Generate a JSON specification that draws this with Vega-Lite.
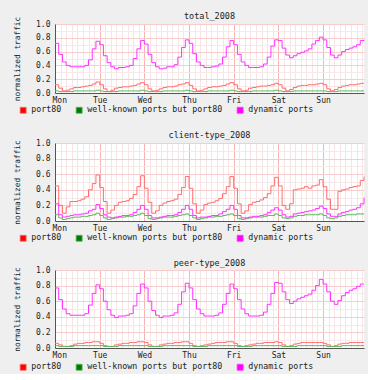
{
  "$schema": "https://vega.github.io/schema/vega-lite/v6.json",
  "background": "#efefef",
  "padding": {"left": 13, "top": 11, "right": 2, "bottom": 2},
  "spacing": 15,
  "datasets": {
    "total": [
      {"h":0,"p":0.12,"w":0.03,"d":0.72},{"h":2,"p":0.07,"w":0.02,"d":0.56},{"h":4,"p":0.03,"w":0.02,"d":0.45},{"h":6,"p":0.04,"w":0.02,"d":0.40},{"h":8,"p":0.06,"w":0.02,"d":0.38},{"h":10,"p":0.08,"w":0.03,"d":0.38},{"h":12,"p":0.08,"w":0.03,"d":0.38},{"h":14,"p":0.09,"w":0.03,"d":0.38},{"h":16,"p":0.10,"w":0.03,"d":0.40},{"h":18,"p":0.11,"w":0.03,"d":0.48},{"h":20,"p":0.13,"w":0.03,"d":0.64},{"h":22,"p":0.16,"w":0.04,"d":0.75},
      {"h":24,"p":0.12,"w":0.03,"d":0.70},{"h":26,"p":0.06,"w":0.02,"d":0.54},{"h":28,"p":0.02,"w":0.02,"d":0.44},{"h":30,"p":0.04,"w":0.02,"d":0.38},{"h":32,"p":0.07,"w":0.02,"d":0.35},{"h":34,"p":0.08,"w":0.03,"d":0.37},{"h":36,"p":0.09,"w":0.03,"d":0.37},{"h":38,"p":0.09,"w":0.03,"d":0.38},{"h":40,"p":0.10,"w":0.03,"d":0.40},{"h":42,"p":0.11,"w":0.03,"d":0.50},{"h":44,"p":0.13,"w":0.03,"d":0.64},{"h":46,"p":0.15,"w":0.04,"d":0.76},
      {"h":48,"p":0.12,"w":0.03,"d":0.71},{"h":50,"p":0.06,"w":0.02,"d":0.56},{"h":52,"p":0.03,"w":0.02,"d":0.44},{"h":54,"p":0.04,"w":0.02,"d":0.38},{"h":56,"p":0.06,"w":0.02,"d":0.35},{"h":58,"p":0.08,"w":0.03,"d":0.36},{"h":60,"p":0.09,"w":0.03,"d":0.38},{"h":62,"p":0.09,"w":0.03,"d":0.38},{"h":64,"p":0.10,"w":0.03,"d":0.41},{"h":66,"p":0.12,"w":0.03,"d":0.52},{"h":68,"p":0.13,"w":0.03,"d":0.66},{"h":70,"p":0.15,"w":0.04,"d":0.77},
      {"h":72,"p":0.11,"w":0.03,"d":0.72},{"h":74,"p":0.06,"w":0.02,"d":0.57},{"h":76,"p":0.03,"w":0.02,"d":0.45},{"h":78,"p":0.04,"w":0.02,"d":0.40},{"h":80,"p":0.06,"w":0.02,"d":0.37},{"h":82,"p":0.08,"w":0.03,"d":0.37},{"h":84,"p":0.09,"w":0.03,"d":0.38},{"h":86,"p":0.09,"w":0.03,"d":0.39},{"h":88,"p":0.10,"w":0.03,"d":0.42},{"h":90,"p":0.11,"w":0.03,"d":0.52},{"h":92,"p":0.13,"w":0.03,"d":0.67},{"h":94,"p":0.15,"w":0.04,"d":0.76},
      {"h":96,"p":0.12,"w":0.03,"d":0.70},{"h":98,"p":0.06,"w":0.02,"d":0.56},{"h":100,"p":0.03,"w":0.02,"d":0.45},{"h":102,"p":0.04,"w":0.02,"d":0.40},{"h":104,"p":0.07,"w":0.02,"d":0.37},{"h":106,"p":0.08,"w":0.03,"d":0.37},{"h":108,"p":0.09,"w":0.03,"d":0.37},{"h":110,"p":0.10,"w":0.03,"d":0.38},{"h":112,"p":0.10,"w":0.03,"d":0.42},{"h":114,"p":0.11,"w":0.03,"d":0.52},{"h":116,"p":0.12,"w":0.03,"d":0.68},{"h":118,"p":0.14,"w":0.04,"d":0.77},
      {"h":120,"p":0.12,"w":0.03,"d":0.76},{"h":122,"p":0.07,"w":0.02,"d":0.65},{"h":124,"p":0.03,"w":0.02,"d":0.55},{"h":126,"p":0.05,"w":0.02,"d":0.51},{"h":128,"p":0.08,"w":0.03,"d":0.54},{"h":130,"p":0.10,"w":0.03,"d":0.57},{"h":132,"p":0.11,"w":0.03,"d":0.59},{"h":134,"p":0.11,"w":0.03,"d":0.61},{"h":136,"p":0.12,"w":0.03,"d":0.64},{"h":138,"p":0.12,"w":0.03,"d":0.71},{"h":140,"p":0.13,"w":0.03,"d":0.76},{"h":142,"p":0.14,"w":0.03,"d":0.81},
      {"h":144,"p":0.12,"w":0.03,"d":0.77},{"h":146,"p":0.06,"w":0.02,"d":0.66},{"h":148,"p":0.03,"w":0.02,"d":0.55},{"h":150,"p":0.05,"w":0.02,"d":0.51},{"h":152,"p":0.08,"w":0.03,"d":0.55},{"h":154,"p":0.10,"w":0.03,"d":0.60},{"h":156,"p":0.11,"w":0.03,"d":0.63},{"h":158,"p":0.12,"w":0.03,"d":0.65},{"h":160,"p":0.12,"w":0.03,"d":0.67},{"h":162,"p":0.13,"w":0.03,"d":0.70},{"h":164,"p":0.14,"w":0.03,"d":0.76},{"h":166,"p":0.14,"w":0.03,"d":0.77}
    ],
    "client": [
      {"h":0,"p":0.45,"w":0.08,"d":0.22},{"h":2,"p":0.20,"w":0.04,"d":0.08},{"h":4,"p":0.10,"w":0.02,"d":0.05},{"h":6,"p":0.18,"w":0.03,"d":0.06},{"h":8,"p":0.25,"w":0.04,"d":0.07},{"h":10,"p":0.25,"w":0.05,"d":0.08},{"h":12,"p":0.26,"w":0.05,"d":0.08},{"h":14,"p":0.28,"w":0.06,"d":0.09},{"h":16,"p":0.31,"w":0.06,"d":0.10},{"h":18,"p":0.40,"w":0.07,"d":0.13},{"h":20,"p":0.48,"w":0.08,"d":0.15},{"h":22,"p":0.59,"w":0.10,"d":0.21},
      {"h":24,"p":0.43,"w":0.07,"d":0.16},{"h":26,"p":0.25,"w":0.04,"d":0.08},{"h":28,"p":0.10,"w":0.02,"d":0.05},{"h":30,"p":0.14,"w":0.03,"d":0.04},{"h":32,"p":0.20,"w":0.04,"d":0.05},{"h":34,"p":0.24,"w":0.05,"d":0.06},{"h":36,"p":0.25,"w":0.05,"d":0.07},{"h":38,"p":0.26,"w":0.06,"d":0.07},{"h":40,"p":0.29,"w":0.06,"d":0.08},{"h":42,"p":0.34,"w":0.07,"d":0.11},{"h":44,"p":0.44,"w":0.08,"d":0.15},{"h":46,"p":0.58,"w":0.10,"d":0.20},
      {"h":48,"p":0.42,"w":0.07,"d":0.15},{"h":50,"p":0.24,"w":0.03,"d":0.07},{"h":52,"p":0.10,"w":0.02,"d":0.04},{"h":54,"p":0.13,"w":0.03,"d":0.04},{"h":56,"p":0.20,"w":0.04,"d":0.05},{"h":58,"p":0.23,"w":0.05,"d":0.06},{"h":60,"p":0.25,"w":0.05,"d":0.07},{"h":62,"p":0.26,"w":0.05,"d":0.07},{"h":64,"p":0.28,"w":0.06,"d":0.08},{"h":66,"p":0.34,"w":0.07,"d":0.11},{"h":68,"p":0.43,"w":0.08,"d":0.15},{"h":70,"p":0.57,"w":0.09,"d":0.20},
      {"h":72,"p":0.42,"w":0.07,"d":0.15},{"h":74,"p":0.22,"w":0.04,"d":0.07},{"h":76,"p":0.10,"w":0.02,"d":0.04},{"h":78,"p":0.14,"w":0.03,"d":0.05},{"h":80,"p":0.21,"w":0.04,"d":0.05},{"h":82,"p":0.23,"w":0.05,"d":0.06},{"h":84,"p":0.24,"w":0.05,"d":0.07},{"h":86,"p":0.26,"w":0.06,"d":0.07},{"h":88,"p":0.29,"w":0.06,"d":0.09},{"h":90,"p":0.35,"w":0.07,"d":0.12},{"h":92,"p":0.44,"w":0.08,"d":0.15},{"h":94,"p":0.57,"w":0.09,"d":0.20},
      {"h":96,"p":0.42,"w":0.07,"d":0.15},{"h":98,"p":0.22,"w":0.03,"d":0.07},{"h":100,"p":0.10,"w":0.02,"d":0.04},{"h":102,"p":0.13,"w":0.03,"d":0.04},{"h":104,"p":0.21,"w":0.04,"d":0.05},{"h":106,"p":0.24,"w":0.05,"d":0.06},{"h":108,"p":0.25,"w":0.05,"d":0.06},{"h":110,"p":0.27,"w":0.05,"d":0.07},{"h":112,"p":0.30,"w":0.06,"d":0.08},{"h":114,"p":0.35,"w":0.07,"d":0.11},{"h":116,"p":0.45,"w":0.07,"d":0.14},{"h":118,"p":0.56,"w":0.09,"d":0.17},
      {"h":120,"p":0.45,"w":0.07,"d":0.14},{"h":122,"p":0.20,"w":0.04,"d":0.08},{"h":124,"p":0.15,"w":0.03,"d":0.05},{"h":126,"p":0.22,"w":0.04,"d":0.06},{"h":128,"p":0.40,"w":0.06,"d":0.09},{"h":130,"p":0.41,"w":0.07,"d":0.10},{"h":132,"p":0.42,"w":0.07,"d":0.11},{"h":134,"p":0.44,"w":0.08,"d":0.12},{"h":136,"p":0.42,"w":0.08,"d":0.13},{"h":138,"p":0.45,"w":0.08,"d":0.14},{"h":140,"p":0.46,"w":0.08,"d":0.16},{"h":142,"p":0.53,"w":0.09,"d":0.19},
      {"h":144,"p":0.44,"w":0.07,"d":0.16},{"h":146,"p":0.28,"w":0.04,"d":0.09},{"h":148,"p":0.15,"w":0.03,"d":0.06},{"h":150,"p":0.15,"w":0.04,"d":0.06},{"h":152,"p":0.38,"w":0.06,"d":0.09},{"h":154,"p":0.40,"w":0.07,"d":0.11},{"h":156,"p":0.41,"w":0.08,"d":0.12},{"h":158,"p":0.43,"w":0.08,"d":0.14},{"h":160,"p":0.44,"w":0.08,"d":0.15},{"h":162,"p":0.45,"w":0.09,"d":0.17},{"h":164,"p":0.52,"w":0.09,"d":0.22},{"h":166,"p":0.57,"w":0.09,"d":0.30}
    ],
    "peer": [
      {"h":0,"p":0.06,"w":0.03,"d":0.77},{"h":2,"p":0.04,"w":0.02,"d":0.62},{"h":4,"p":0.02,"w":0.02,"d":0.50},{"h":6,"p":0.02,"w":0.02,"d":0.44},{"h":8,"p":0.03,"w":0.02,"d":0.42},{"h":10,"p":0.05,"w":0.03,"d":0.42},{"h":12,"p":0.06,"w":0.03,"d":0.42},{"h":14,"p":0.06,"w":0.03,"d":0.42},{"h":16,"p":0.07,"w":0.03,"d":0.44},{"h":18,"p":0.07,"w":0.03,"d":0.55},{"h":20,"p":0.08,"w":0.03,"d":0.70},{"h":22,"p":0.08,"w":0.03,"d":0.81},
      {"h":24,"p":0.06,"w":0.03,"d":0.76},{"h":26,"p":0.03,"w":0.02,"d":0.60},{"h":28,"p":0.02,"w":0.02,"d":0.49},{"h":30,"p":0.02,"w":0.02,"d":0.42},{"h":32,"p":0.04,"w":0.02,"d":0.39},{"h":34,"p":0.05,"w":0.03,"d":0.41},{"h":36,"p":0.06,"w":0.03,"d":0.41},{"h":38,"p":0.06,"w":0.03,"d":0.42},{"h":40,"p":0.07,"w":0.03,"d":0.44},{"h":42,"p":0.07,"w":0.03,"d":0.54},{"h":44,"p":0.08,"w":0.03,"d":0.70},{"h":46,"p":0.08,"w":0.03,"d":0.82},
      {"h":48,"p":0.07,"w":0.03,"d":0.77},{"h":50,"p":0.04,"w":0.02,"d":0.60},{"h":52,"p":0.02,"w":0.02,"d":0.48},{"h":54,"p":0.02,"w":0.02,"d":0.42},{"h":56,"p":0.04,"w":0.02,"d":0.39},{"h":58,"p":0.05,"w":0.03,"d":0.41},{"h":60,"p":0.06,"w":0.03,"d":0.41},{"h":62,"p":0.06,"w":0.03,"d":0.42},{"h":64,"p":0.07,"w":0.03,"d":0.45},{"h":66,"p":0.07,"w":0.03,"d":0.56},{"h":68,"p":0.08,"w":0.03,"d":0.72},{"h":70,"p":0.08,"w":0.03,"d":0.83},
      {"h":72,"p":0.06,"w":0.03,"d":0.77},{"h":74,"p":0.03,"w":0.02,"d":0.62},{"h":76,"p":0.02,"w":0.02,"d":0.50},{"h":78,"p":0.03,"w":0.02,"d":0.44},{"h":80,"p":0.04,"w":0.02,"d":0.41},{"h":82,"p":0.05,"w":0.03,"d":0.41},{"h":84,"p":0.06,"w":0.03,"d":0.41},{"h":86,"p":0.07,"w":0.03,"d":0.42},{"h":88,"p":0.07,"w":0.03,"d":0.45},{"h":90,"p":0.07,"w":0.03,"d":0.56},{"h":92,"p":0.08,"w":0.03,"d":0.70},{"h":94,"p":0.08,"w":0.03,"d":0.82},
      {"h":96,"p":0.06,"w":0.03,"d":0.76},{"h":98,"p":0.03,"w":0.02,"d":0.62},{"h":100,"p":0.02,"w":0.02,"d":0.50},{"h":102,"p":0.03,"w":0.02,"d":0.44},{"h":104,"p":0.04,"w":0.02,"d":0.41},{"h":106,"p":0.05,"w":0.03,"d":0.41},{"h":108,"p":0.06,"w":0.03,"d":0.41},{"h":110,"p":0.06,"w":0.03,"d":0.42},{"h":112,"p":0.07,"w":0.03,"d":0.46},{"h":114,"p":0.07,"w":0.03,"d":0.56},{"h":116,"p":0.07,"w":0.03,"d":0.70},{"h":118,"p":0.08,"w":0.03,"d":0.84},
      {"h":120,"p":0.07,"w":0.03,"d":0.83},{"h":122,"p":0.04,"w":0.02,"d":0.72},{"h":124,"p":0.02,"w":0.02,"d":0.62},{"h":126,"p":0.03,"w":0.02,"d":0.57},{"h":128,"p":0.05,"w":0.02,"d":0.60},{"h":130,"p":0.06,"w":0.03,"d":0.63},{"h":132,"p":0.07,"w":0.03,"d":0.65},{"h":134,"p":0.07,"w":0.03,"d":0.67},{"h":136,"p":0.07,"w":0.03,"d":0.69},{"h":138,"p":0.07,"w":0.03,"d":0.74},{"h":140,"p":0.07,"w":0.03,"d":0.80},{"h":142,"p":0.07,"w":0.03,"d":0.88},
      {"h":144,"p":0.06,"w":0.03,"d":0.82},{"h":146,"p":0.04,"w":0.02,"d":0.72},{"h":148,"p":0.02,"w":0.02,"d":0.60},{"h":150,"p":0.03,"w":0.02,"d":0.56},{"h":152,"p":0.05,"w":0.02,"d":0.61},{"h":154,"p":0.06,"w":0.03,"d":0.67},{"h":156,"p":0.06,"w":0.03,"d":0.71},{"h":158,"p":0.07,"w":0.03,"d":0.74},{"h":160,"p":0.07,"w":0.03,"d":0.76},{"h":162,"p":0.07,"w":0.03,"d":0.79},{"h":164,"p":0.07,"w":0.03,"d":0.82},{"h":166,"p":0.07,"w":0.03,"d":0.82}
    ]
  },
  "vconcat": [
    {
      "title": {"text": "total_2008", "offset": -4},
      "width": 309,
      "height": 69,
      "data": {"name": "total"},
      "transform": [{"fold": ["p", "w", "d"], "as": ["s", "v"]}],
      "mark": {"type": "line", "interpolate": "step-after"},
      "encoding": {
        "x": {"field": "h", "type": "quantitative", "title": null,
          "scale": {"domain": [0, 166], "nice": false, "zero": false},
          "axis": {"values": [0,3,6,9,12,15,18,21,24,27,30,33,36,39,42,45,48,51,54,57,60,63,66,69,72,75,78,81,84,87,90,93,96,99,102,105,108,111,114,117,120,123,126,129,132,135,138,141,144,147,150,153,156,159,162,165],
            "labelExpr": "datum.value % 24 === 0 ? ['Mon','Tue','Wed','Thu','Fri','Sat','Sun'][datum.value / 24] : ''",
            "labelOverlap": false, "labelFlush": true, "labelFlushOffset": 3, "labelPadding": 3,
            "gridColor": {"condition": {"test": "datum.value % 24 === 0", "value": "#f8b4b4"}, "value": "#f7e4e4"}}},
        "y": {"field": "v", "type": "quantitative", "title": "normalized traffic",
          "scale": {"domain": [0, 1], "nice": false},
          "axis": {"values": [0,0.1,0.2,0.3,0.4,0.5,0.6,0.7,0.8,0.9,1.0], "format": ".1f",
            "labelExpr": "round(datum.value * 10) % 2 === 0 ? datum.label : ''",
            "gridColor": {"condition": {"test": "round(datum.value * 10) % 2 === 0", "value": "#f6cccc"}, "value": "#f8e8e8"}}},
        "color": {"field": "s", "type": "nominal",
          "scale": {"domain": ["p", "w", "d"], "range": ["#ff6e6e", "#5cb85c", "#ff33ff"]},
          "legend": {"orient": "none", "legendX": -36, "legendY": 82,
            "labelExpr": "datum.value === 'p' ? 'port80' : datum.value === 'w' ? 'well-known ports but port80' : 'dynamic ports'",
            "encode": {"symbols": {"update": {"fill": {"signal": "datum.value === 'p' ? '#ff0000' : datum.value === 'w' ? '#007a00' : '#ff00ff'"}, "stroke": {"value": "#444444"}, "strokeWidth": {"value": 0.8}, "opacity": {"value": 1}, "fillOpacity": {"value": 1}}}}}},
        "strokeWidth": {"field": "s", "type": "nominal", "scale": {"domain": ["p", "w", "d"], "range": [1, 1, 1.6]}, "legend": null}
      }
    },
    {
      "title": {"text": "client-type_2008", "offset": 0},
      "width": 309,
      "height": 78,
      "data": {"name": "client"},
      "transform": [{"fold": ["p", "w", "d"], "as": ["s", "v"]}],
      "mark": {"type": "line", "interpolate": "step-after"},
      "encoding": {
        "x": {"field": "h", "type": "quantitative", "title": null,
          "scale": {"domain": [0, 166], "nice": false, "zero": false},
          "axis": {"values": [0,3,6,9,12,15,18,21,24,27,30,33,36,39,42,45,48,51,54,57,60,63,66,69,72,75,78,81,84,87,90,93,96,99,102,105,108,111,114,117,120,123,126,129,132,135,138,141,144,147,150,153,156,159,162,165],
            "labelExpr": "datum.value % 24 === 0 ? ['Mon','Tue','Wed','Thu','Fri','Sat','Sun'][datum.value / 24] : ''",
            "labelOverlap": false, "labelFlush": true, "labelFlushOffset": 3, "labelPadding": 3,
            "gridColor": {"condition": {"test": "datum.value % 24 === 0", "value": "#f8b4b4"}, "value": "#f7e4e4"}}},
        "y": {"field": "v", "type": "quantitative", "title": "normalized traffic",
          "scale": {"domain": [0, 1], "nice": false},
          "axis": {"values": [0,0.1,0.2,0.3,0.4,0.5,0.6,0.7,0.8,0.9,1.0], "format": ".1f",
            "labelExpr": "round(datum.value * 10) % 2 === 0 ? datum.label : ''",
            "gridColor": {"condition": {"test": "round(datum.value * 10) % 2 === 0", "value": "#f6cccc"}, "value": "#f8e8e8"}}},
        "color": {"field": "s", "type": "nominal",
          "scale": {"domain": ["p", "w", "d"], "range": ["#ff6e6e", "#5cb85c", "#ff33ff"]},
          "legend": {"orient": "none", "legendX": -36, "legendY": 91,
            "labelExpr": "datum.value === 'p' ? 'port80' : datum.value === 'w' ? 'well-known ports but port80' : 'dynamic ports'",
            "encode": {"symbols": {"update": {"fill": {"signal": "datum.value === 'p' ? '#ff0000' : datum.value === 'w' ? '#007a00' : '#ff00ff'"}, "stroke": {"value": "#444444"}, "strokeWidth": {"value": 0.8}, "opacity": {"value": 1}, "fillOpacity": {"value": 1}}}}}},
        "strokeWidth": {"field": "s", "type": "nominal", "scale": {"domain": ["p", "w", "d"], "range": [1, 1, 1.6]}, "legend": null}
      }
    },
    {
      "title": {"text": "peer-type_2008", "offset": -1},
      "width": 309,
      "height": 78,
      "data": {"name": "peer"},
      "transform": [{"fold": ["p", "w", "d"], "as": ["s", "v"]}],
      "mark": {"type": "line", "interpolate": "step-after"},
      "encoding": {
        "x": {"field": "h", "type": "quantitative", "title": null,
          "scale": {"domain": [0, 166], "nice": false, "zero": false},
          "axis": {"values": [0,3,6,9,12,15,18,21,24,27,30,33,36,39,42,45,48,51,54,57,60,63,66,69,72,75,78,81,84,87,90,93,96,99,102,105,108,111,114,117,120,123,126,129,132,135,138,141,144,147,150,153,156,159,162,165],
            "labelExpr": "datum.value % 24 === 0 ? ['Mon','Tue','Wed','Thu','Fri','Sat','Sun'][datum.value / 24] : ''",
            "labelOverlap": false, "labelFlush": true, "labelFlushOffset": 3, "labelPadding": 3,
            "gridColor": {"condition": {"test": "datum.value % 24 === 0", "value": "#f8b4b4"}, "value": "#f7e4e4"}}},
        "y": {"field": "v", "type": "quantitative", "title": "normalized traffic",
          "scale": {"domain": [0, 1], "nice": false},
          "axis": {"values": [0,0.1,0.2,0.3,0.4,0.5,0.6,0.7,0.8,0.9,1.0], "format": ".1f",
            "labelExpr": "round(datum.value * 10) % 2 === 0 ? datum.label : ''",
            "gridColor": {"condition": {"test": "round(datum.value * 10) % 2 === 0", "value": "#f6cccc"}, "value": "#f8e8e8"}}},
        "color": {"field": "s", "type": "nominal",
          "scale": {"domain": ["p", "w", "d"], "range": ["#ff6e6e", "#5cb85c", "#ff33ff"]},
          "legend": {"orient": "none", "legendX": -36, "legendY": 93,
            "labelExpr": "datum.value === 'p' ? 'port80' : datum.value === 'w' ? 'well-known ports but port80' : 'dynamic ports'",
            "encode": {"symbols": {"update": {"fill": {"signal": "datum.value === 'p' ? '#ff0000' : datum.value === 'w' ? '#007a00' : '#ff00ff'"}, "stroke": {"value": "#444444"}, "strokeWidth": {"value": 0.8}, "opacity": {"value": 1}, "fillOpacity": {"value": 1}}}}}},
        "strokeWidth": {"field": "s", "type": "nominal", "scale": {"domain": ["p", "w", "d"], "range": [1, 1, 1.6]}, "legend": null}
      }
    }
  ],
  "resolve": {"legend": {"color": "independent"}},
  "config": {
    "font": "DejaVu Sans Mono",
    "view": {"stroke": null, "fill": "#ffffff"},
    "title": {"font": "DejaVu Sans Mono", "fontSize": 8.5, "fontWeight": "normal", "color": "#222222"},
    "axis": {"labelFont": "DejaVu Sans Mono", "labelFontSize": 8, "labelColor": "#222222", "labelPadding": 5,
      "titleFont": "DejaVu Sans Mono", "titleFontSize": 7.8, "titleFontWeight": "normal", "titleColor": "#222222", "titlePadding": 14,
      "domainColor": "#555555", "ticks": false, "grid": true, "gridOpacity": 1},
    "legend": {"direction": "horizontal", "title": null, "symbolType": "square", "symbolSize": 36,
      "labelFont": "DejaVu Sans Mono", "labelFontSize": 8.3, "labelColor": "#222222", "labelOffset": 4, "columnPadding": 12, "padding": 0}
  }
}
